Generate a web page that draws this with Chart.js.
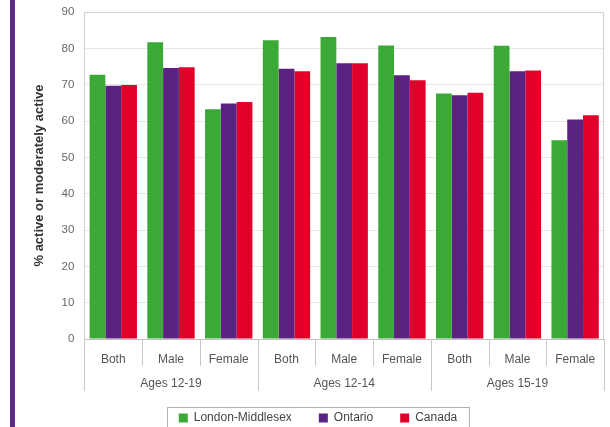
<!DOCTYPE html>
<html>
<head>
<meta charset="utf-8">
<script src="https://cdn.jsdelivr.net/npm/chart.js@4/dist/chart.umd.min.js"></script>
<style>
  html, body { margin: 0; padding: 0; background: #fff; }
  #wrap { position: relative; width: 610px; height: 427px; overflow: hidden; }
  #bar { position: absolute; left: 10px; top: 0; width: 5px; height: 427px; background: #5b2a8a; }
  canvas { position: absolute; left: 0; top: 0; }
</style>
</head>
<body>
<div id="wrap"><div id="bar"></div><canvas id="c" width="610" height="427"></canvas></div>
<script>
const categories = ['Both', 'Male', 'Female', 'Both', 'Male', 'Female', 'Both', 'Male', 'Female'];
const groups = ['Ages 12-19', 'Ages 12-14', 'Ages 15-19'];
const groupSize = 3;
const londonMiddlesex = [72.7, 81.7, 63.2, 82.2, 83.1, 80.8, 67.6, 80.7, 54.7];
const ontario = [69.7, 74.6, 64.8, 74.4, 75.9, 72.6, 67.1, 73.7, 60.4];
const canada = [69.9, 74.8, 65.2, 73.7, 75.9, 71.2, 67.8, 73.9, 61.6];
const yTicks = [0, 10, 20, 30, 40, 50, 60, 70, 80, 90];

const FONT = "'Liberation Sans', Arial, sans-serif";

const multiLevel = {
  id: 'multiLevel',
  afterDraw(chart) {
    const ctx = chart.ctx;
    const x = chart.scales.x;
    const area = chart.chartArea;
    const n = categories.length;
    const step = x.width / n;
    ctx.save();
    ctx.strokeStyle = '#c8c8c8';
    ctx.lineWidth = 1;
    for (let i = 0; i <= n; i++) {
      const px = Math.round(x.left + i * step) + 0.5;
      const isGroup = i % groupSize === 0;
      ctx.beginPath();
      ctx.moveTo(px, area.bottom);
      ctx.lineTo(px, area.bottom + (isGroup ? 52 : 27));
      ctx.stroke();
    }
    ctx.fillStyle = '#555';
    ctx.font = '12px ' + FONT;
    ctx.textAlign = 'center';
    ctx.textBaseline = 'middle';
    groups.forEach((g, gi) => {
      const cx = x.left + (gi * groupSize + groupSize / 2) * step;
      ctx.fillText(g, cx, area.bottom + 45);
    });
    // legend frame
    const lg = chart.legend;
    if (lg && lg.legendHitBoxes && lg.legendHitBoxes.length) {
      const hb = lg.legendHitBoxes;
      const last = hb[hb.length - 1];
      const l = hb[0].left - 12;
      const r = last.left + last.width + 12;
      const t = hb[0].top - 5;
      const b = hb[0].top + hb[0].height + 6;
      ctx.strokeStyle = '#b0b0b0';
      ctx.strokeRect(Math.round(l) + 0.5, Math.round(t) + 0.5, Math.round(r - l), Math.round(b - t));
    }
    ctx.restore();
  }
};

new Chart(document.getElementById('c'), {
  type: 'bar',
  data: {
    labels: categories,
    datasets: [
      { label: 'London-Middlesex', data: londonMiddlesex, backgroundColor: '#3aa935' },
      { label: 'Ontario', data: ontario, backgroundColor: '#5c2283' },
      { label: 'Canada', data: canada, backgroundColor: '#e1002a' }
    ]
  },
  options: {
    responsive: false,
    animation: false,
    devicePixelRatio: 1,
    layout: { padding: { left: 32, right: 6, top: 12, bottom: -7 } },
    datasets: { bar: { categoryPercentage: 0.82, barPercentage: 1.0, borderWidth: 0 } },
    scales: {
      x: {
        grid: { display: false, drawTicks: false },
        border: { display: true, color: '#c0c0c0' },
        ticks: { color: '#555', font: { family: FONT, size: 12 }, padding: 13, maxRotation: 0 },
        afterFit(scale) { scale.height = 46; }
      },
      y: {
        min: 0, max: 90,
        afterBuildTicks(scale) { scale.ticks = yTicks.map(v => ({ value: v })); },
        grid: { color: '#e6e6e6', drawTicks: true, tickLength: 10, tickColor: 'rgba(0,0,0,0)' },
        border: { display: true, color: '#d0d0d0' },
        ticks: { color: '#666', font: { family: FONT, size: 11.5 }, padding: 0 },
        title: { display: true, text: '% active or moderately active', color: '#333', font: { family: FONT, size: 13, weight: 'bold' }, padding: { top: 0, bottom: 14 } }
      }
    },
    plugins: {
      legend: {
        position: 'bottom',
        labels: { boxWidth: 9, boxHeight: 9, color: '#444', font: { family: FONT, size: 12 }, padding: 27 }
      },
      tooltip: { enabled: false }
    }
  },
  plugins: [multiLevel, {
    id: 'frame',
    afterDraw(chart) {
      const a = chart.chartArea, ctx = chart.ctx;
      ctx.save();
      ctx.strokeStyle = '#d0d0d0';
      ctx.beginPath();
      ctx.moveTo(Math.round(a.left) + 0.5, Math.round(a.top) + 0.5);
      ctx.lineTo(Math.round(a.right) - 0.5, Math.round(a.top) + 0.5);
      ctx.lineTo(Math.round(a.right) - 0.5, Math.round(a.bottom));
      ctx.stroke();
      ctx.restore();
    }
  }]
});
</script>
</body>
</html>
